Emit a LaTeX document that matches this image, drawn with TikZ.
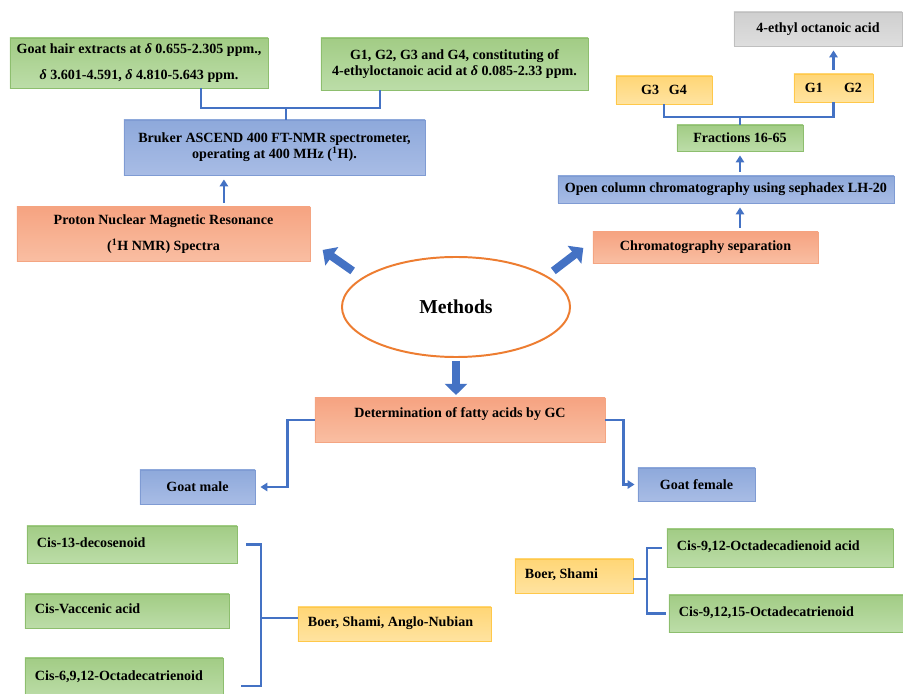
\documentclass[tikz,border=0pt]{standalone}
\usepackage{fontspec}
\setmainfont{Liberation Serif}
\usetikzlibrary{arrows.meta, calc, positioning, shapes.geometric}
\definecolor{linkblue}{HTML}{4472C4}
\definecolor{methodorange}{HTML}{ED7D31}
\definecolor{grntop}{HTML}{A2CC85}
\definecolor{grnbot}{HTML}{BCDDA8}
\definecolor{grnline}{HTML}{8DBE6E}
\definecolor{blutop}{HTML}{8EA9DB}
\definecolor{blubot}{HTML}{A8BCE5}
\definecolor{bluline}{HTML}{7F9BD3}
\definecolor{orgtop}{HTML}{F6A381}
\definecolor{orgbot}{HTML}{F9BEA2}
\definecolor{orgline}{HTML}{F4A582}
\definecolor{yeltop}{HTML}{FFD676}
\definecolor{yelbot}{HTML}{FFE3A0}
\definecolor{yelline}{HTML}{FFC84A}
\definecolor{grytop}{HTML}{CFCFCF}
\definecolor{grybot}{HTML}{DEDEDE}
\definecolor{gryline}{HTML}{BFBFBF}

\begin{document}
\begin{tikzpicture}[x=0.025cm, y=-0.025cm,
    font=\fontsize{10}{11.5}\selectfont\bfseries,
    box/.style={draw=#1, line width=0.6pt, inner sep=2pt, align=center},
    greenbox/.style={box=grnline, top color=grntop, bottom color=grnbot},
    bluebox/.style={box=bluline, top color=blutop, bottom color=blubot},
    orangebox/.style={box=orgline, top color=orgtop, bottom color=orgbot},
    yellowbox/.style={box=yelline, top color=yeltop, bottom color=yelbot},
    graybox/.style={box=gryline, top color=grytop, bottom color=grybot},
    listbox/.style={inner xsep=0.25cm, align=flush left, text width=#1, text depth=0.1cm},
    link/.style={draw=linkblue, line width=2pt},
    uparrow/.style={draw=linkblue, line width=1.5pt, -{Triangle[length=5pt,width=6pt]}, shorten <=0.1cm, shorten >=0.1cm},
    sidearrow/.style={link, -{Triangle[length=5pt,width=6pt]}},
    bigarrow/.style={draw=linkblue, line width=0.2cm, -{Triangle[length=0.28cm,width=0.55cm]}}]
    \useasboundingbox (0,0) rectangle (903,694);

    % NMR branch
    \node[greenbox, minimum width=6.45cm, minimum height=1.25cm] (hair) at (139,63) {Goat hair extracts at \textit{δ} 0.655-2.305 ppm.,\\[7pt] \textit{δ} 3.601-4.591, \textit{δ} 4.810-5.643 ppm.};
    \node[greenbox, minimum width=6.675cm, minimum height=1.3cm] (gfour) at (454.5,64) {G1, G2, G3 and G4, constituting of\\ 4-ethyloctanoic acid at \textit{δ} 0.085-2.33 ppm.};
    \node[bluebox, minimum width=7.525cm, minimum height=1.375cm] (bruker) at (274.5,147.5) {Bruker ASCEND 400 FT-NMR spectrometer,\\ operating at 400 MHz (\textsuperscript{1}H).};
    \node[orangebox, minimum width=7.325cm, minimum height=1.35cm] (proton) at (163.5,234) {Proton Nuclear Magnetic Resonance\\[7pt] (\textsuperscript{1}H NMR) Spectra};

    \coordinate (jnmr) at (286,108);
    \draw[link] ([xshift=1.55cm]hair.south) |- (jnmr) -| ([xshift=-1.8625cm]gfour.south);
    \draw[link] (jnmr) -- (jnmr |- bruker.north);
    \path ([xshift=1.51cm]proton.north) coordinate (pa);
    \draw[uparrow] (pa) -- (pa |- bruker.south);

    % Centre
    \node[ellipse, draw=methodorange, line width=1.4pt, fill=white, minimum width=5.7cm, minimum height=2.5cm, font=\fontsize{14}{17}\selectfont\bfseries] (methods) at (456,307) {Methods};
    \draw[bigarrow] ([xshift=-0.55cm]methods.north west) -- ++(-30,-21);
    \draw[bigarrow] ([xshift=0.4cm]methods.north east) -- ++(30,-23);
    \draw[bigarrow, shorten <=0.075cm, shorten >=0.075cm] (methods.south) -- (methods.south |- 0,398);

    % Chromatography branch
    \node[orangebox, minimum width=5.625cm, minimum height=0.775cm] (chrom) at (705.5,247.5) {Chromatography separation};
    \node[bluebox, minimum width=8.4cm, minimum height=0.675cm] (opencol) at (726,189.5) {Open column chromatography using sephadex LH-20};
    \node[greenbox, minimum width=3.15cm, minimum height=0.65cm] (fractions) at (740,138) {Fractions 16-65};
    \node[yellowbox, minimum width=2.4cm, minimum height=0.7cm] (gthree) at (664,90) {G3\hspace{7pt}G4};
    \node[yellowbox, minimum width=1.975cm, minimum height=0.7cm] (gone) at (833.5,88) {G1\hspace{15pt}G2};
    \node[graybox, minimum width=4.2cm, minimum height=0.85cm] (ethyl) at (818,29) {4-ethyl octanoic acid};

    \draw[uparrow] (fractions.south |- chrom.north) -- (fractions.south |- opencol.south);
    \draw[uparrow] (fractions.south |- opencol.north) -- (fractions.south);
    \coordinate (jfrac) at (740,117);
    \draw[link] (gthree.south) |- (jfrac) -| (gone.south);
    \draw[link] (jfrac) -- (fractions.north);
    \draw[uparrow] (gone.north) -- (gone.north |- ethyl.south);

    % GC branch
    \node[orangebox, minimum width=7.25cm, minimum height=1.1cm, text height=0.25cm, text depth=0.36cm] (determ) at (460,420) {Determination of fatty acids by GC};
    \node[bluebox, minimum width=2.875cm, minimum height=0.85cm] (male) at (197.5,487) {Goat male};
    \node[bluebox, minimum width=2.925cm, minimum height=0.825cm] (female) at (696.5,484.5) {Goat female};
    \draw[sidearrow, shorten >=0.125cm] (determ.west) -- ++(-27,0) |- (male.east);
    \draw[sidearrow, shorten >=0.075cm] (determ.east) -- ++(18,0) |- (female.west);

    % Male fatty acids
    \node[greenbox, listbox=4.75cm, minimum height=0.925cm] (decos) at (132,544.5) {Cis-13-decosenoid};
    \node[greenbox, listbox=4.6cm, minimum height=0.85cm] (vacc) at (127,611) {Cis-Vaccenic acid};
    \node[greenbox, listbox=4.45cm, minimum height=1cm] (octtri) at (124,678) {Cis-6,9,12-Octadecatrienoid};
    \node[yellowbox, listbox=4.325cm, minimum height=0.85cm] (boerthree) at (394.5,624) {Boer, Shami, Anglo-Nubian};
    \coordinate (brl) at (261,618);
    \draw[link] ([xshift=0.225cm]decos.east) -| (brl) |- ([xshift=0.45cm, yshift=-0.2cm]octtri.east);
    \draw[link] (brl) -- (boerthree.west |- brl);

    % Female fatty acids
    \node[yellowbox, listbox=2.45cm, minimum height=0.85cm] (boertwo) at (574,576) {Boer, Shami};
    \node[greenbox, listbox=5.15cm, minimum height=0.95cm] (octdi) at (780,548) {Cis-9,12-Octadecadienoid acid};
    \node[greenbox, listbox=5.525cm, minimum height=0.925cm] (octtrif) at (789.5,613.5) {Cis-9,12,15-Octadecatrienoid};
    \coordinate (brr) at (647,579);
    \draw[link] (boertwo.east |- brr) -- (brr);
    \draw[link] ([xshift=-0.125cm]octdi.west) -| (brr) |- ([xshift=-0.075cm]octtrif.west);
\end{tikzpicture}
\end{document}
